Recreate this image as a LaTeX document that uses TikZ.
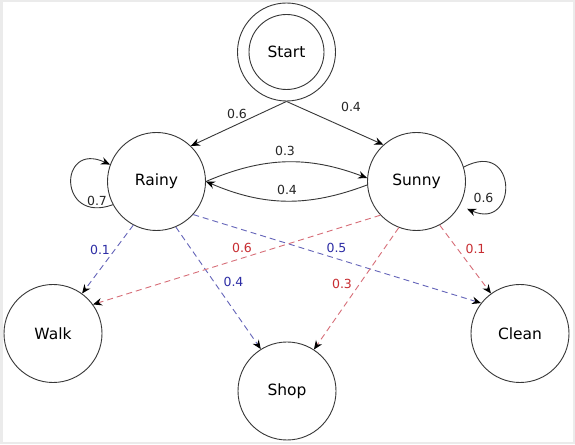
\documentclass[tikz,border=0pt]{standalone}
\usepackage{fontspec}
\setmainfont{DejaVu Sans}
\usetikzlibrary{arrows.meta}
\definecolor{bluelab}{RGB}{45,45,165}
\definecolor{redlab}{RGB}{200,45,50}
\definecolor{blueline}{RGB}{100,100,185}
\definecolor{redline}{RGB}{215,110,120}
\definecolor{edgegray}{RGB}{55,55,55}
\tikzset{
  state/.style={circle, draw=edgegray, line width=0.9pt, minimum size=98pt, inner sep=0pt, font=\fontsize{15.5}{18}\selectfont},
  tip/.style={-{Stealth[length=9pt,width=7.5pt,inset=3pt,black]}},
  trans/.style={tip, draw=edgegray, line width=0.9pt},
  emitb/.style={tip, draw=blueline, line width=0.9pt, dash pattern=on 6pt off 4pt},
  emitr/.style={tip, draw=redline, line width=0.9pt, dash pattern=on 6pt off 4pt},
  lab/.style={font=\fontsize{12.5}{15}\selectfont, inner sep=0pt, text=black!85},
  labb/.style={lab, text=bluelab},
  labr/.style={lab, text=redlab},
}
\begin{document}
\begin{tikzpicture}[x=1pt,y=1pt]
\useasboundingbox (0,0) rectangle (575,444);
\fill[white] (0,0) rectangle (575,444);
\draw[black!8, line width=2.5pt] (1.25,1.25) rectangle (573.75,442.75);

\node[state] (start) at (286.5,392) {Start};
\node[state, minimum size=75pt] (startin) at (286.5,392) {};
\node[state] (rainy) at (156.5,262.5) {Rainy};
\node[state] (sunny) at (416.5,262.5) {Sunny};
\node[state] (walk) at (53,110.5) {Walk};
\node[state] (shop) at (287,53) {Shop};
\node[state] (clean) at (520,110.5) {Clean};

% start transitions
\draw[trans] (start.south) -- (rainy.46);
\draw[trans] (start.south) -- (sunny.132);
\node[lab] (l06a) at (237,330) {0.6};
\node[lab] (l04a) at (351,337) {0.4};

% rainy <-> sunny
\draw[trans] (rainy.east) to[bend left=22] (sunny.176);
\draw[trans] (sunny.184) to[bend left=22] (rainy.east);
\node[lab] (l03) at (285,293) {0.3};
\node[lab] (l04b) at (287,254) {0.4};

% self loops
\draw[trans] (rainy.208) .. controls +(-55,-20) and +(-52,24) .. (rainy.160);
\node[lab] (l07) at (97,243) {0.7};
\draw[trans, shorten >=8pt] (sunny.17) .. controls +(55,29) and +(58,-26) .. (sunny.331);
\node[lab] (l06b) at (483.5,246.5) {0.6};

% emissions from rainy
\draw[emitb] (rainy.242) -- (walk.54);
\draw[emitb] (rainy.293) -- (shop.122);
\draw[emitb] (rainy.318) -- (clean.142);
\node[labb] (b01) at (100,194) {0.1};
\node[labb] (b04) at (233.5,162.5) {0.4};
\node[labb] (b05) at (336.5,196.5) {0.5};

% emissions from sunny
\draw[emitr] (sunny.223) -- (walk.36);
\draw[emitr] (sunny.249) -- (shop.57);
\draw[emitr] (sunny.298) -- (clean.126);
\node[labr] (r06) at (242,196) {0.6};
\node[labr] (r03) at (342,160) {0.3};
\node[labr] (r01) at (475.5,195) {0.1};
\end{tikzpicture}
\end{document}
